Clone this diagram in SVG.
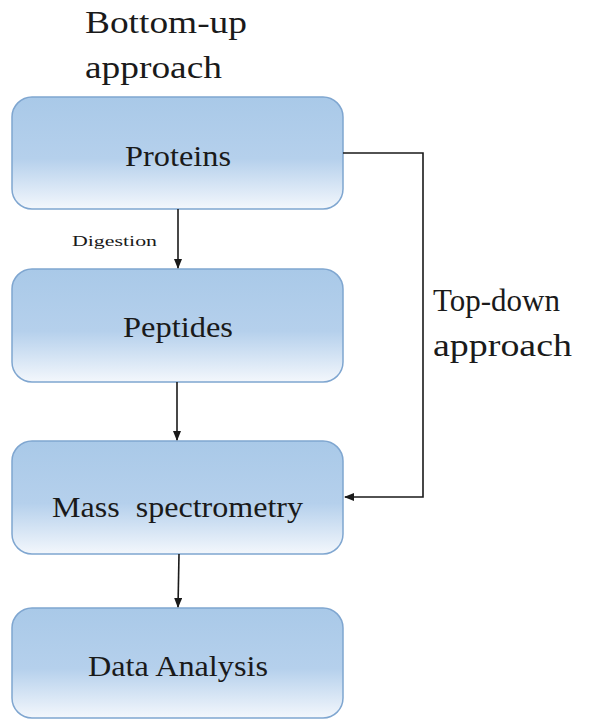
<svg xmlns="http://www.w3.org/2000/svg" width="592" height="720" viewBox="0 0 592 720">
<defs>
<linearGradient id="g" x1="0" y1="0" x2="0" y2="1">
<stop offset="0" stop-color="#a9c9e8"/>
<stop offset="0.55" stop-color="#b5d0ec"/>
<stop offset="1" stop-color="#f3f7fc"/>
</linearGradient>
<marker id="ah" markerWidth="10" markerHeight="8" refX="9" refY="4" orient="auto" markerUnits="userSpaceOnUse">
<path d="M0,0 L10,4 L0,8 z" fill="#1a1a1a"/>
</marker>
<style>
.box{fill:url(#g);stroke:#7fa6d0;stroke-width:1.5}
.c{fill:none;stroke:#1a1a1a;stroke-width:1.6}
</style>
</defs>
<g font-family="Liberation Serif, Times New Roman, DejaVu Serif, serif" fill="#1a1a1a">
<text font-size="31" x="85" y="33" textLength="162" lengthAdjust="spacingAndGlyphs">Bottom-up</text>
<text font-size="31" x="85" y="78" textLength="137" lengthAdjust="spacingAndGlyphs">approach</text>
<text font-size="31" x="433" y="311" textLength="127" lengthAdjust="spacingAndGlyphs">Top-down</text>
<text font-size="31" x="433" y="356" textLength="139" lengthAdjust="spacingAndGlyphs">approach</text>
</g>
<g id="proteins"><rect class="box" x="12" y="97" width="331" height="112" rx="20"/><text font-family="Liberation Serif, serif" font-size="30" fill="#1a1a1a" x="125" y="166" textLength="106" lengthAdjust="spacingAndGlyphs">Proteins</text></g>
<g id="peptides"><rect class="box" x="12" y="269" width="331" height="113" rx="20"/><text font-family="Liberation Serif, serif" font-size="30" fill="#1a1a1a" x="123" y="337" textLength="110" lengthAdjust="spacingAndGlyphs">Peptides</text></g>
<g id="mass"><rect class="box" x="12" y="441" width="331" height="113" rx="20"/><text font-family="Liberation Serif, serif" font-size="30" fill="#1a1a1a" x="52" y="517" textLength="251" lengthAdjust="spacingAndGlyphs" xml:space="preserve">Mass  spectrometry</text></g>
<g id="data"><rect class="box" x="12" y="608" width="331" height="110" rx="20"/><text font-family="Liberation Serif, serif" font-size="30" fill="#1a1a1a" x="88" y="676" textLength="180" lengthAdjust="spacingAndGlyphs">Data Analysis</text></g>
<g id="connectors">
<line class="c" x1="178" y1="209" x2="178" y2="268" marker-end="url(#ah)"/>
<text font-family="Liberation Serif, serif" font-size="15" fill="#1a1a1a" x="72" y="246" textLength="85" lengthAdjust="spacingAndGlyphs">Digestion</text>
<line class="c" x1="177" y1="382" x2="177" y2="440" marker-end="url(#ah)"/>
<line class="c" x1="179" y1="554" x2="178" y2="607" marker-end="url(#ah)"/>
<polyline class="c" points="343,153 423,153 423,497 345,497" marker-end="url(#ah)"/>
</g>
</svg>
